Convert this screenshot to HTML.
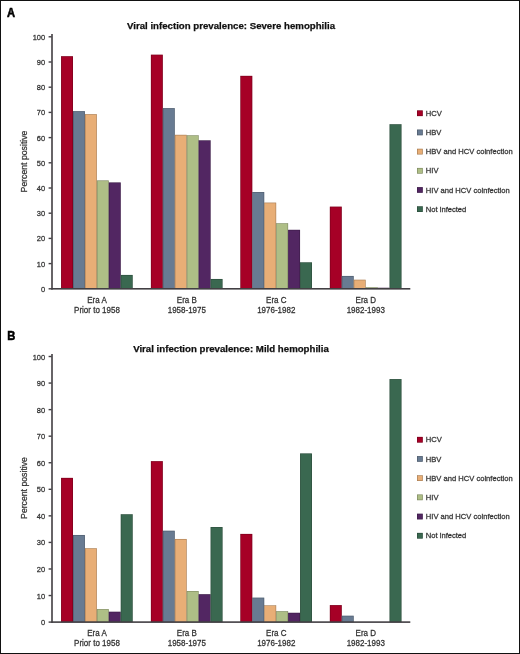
<!DOCTYPE html>
<html><head><meta charset="utf-8"><style>
html,body{margin:0;padding:0;background:#fff;}
body{width:520px;height:654px;overflow:hidden;}
svg{display:block;font-family:"Liberation Sans", sans-serif;will-change:transform;}
</style></head><body>
<svg width="520" height="654" viewBox="0 0 520 654">
<rect x="0" y="0" width="520" height="654" fill="#fff"/>
<text x="0" y="0" transform="translate(6.90,16.90) scale(1,1.08)" font-size="11.2" text-anchor="start" font-weight="bold" fill="#000" stroke="#000" stroke-width="0.5" >A</text>
<text x="0" y="0" transform="translate(231.00,28.80) scale(1,1.0)" font-size="9.67" text-anchor="middle" font-weight="bold" fill="#111" stroke="#111" stroke-width="0.25" >Viral infection prevalence: Severe hemophilia</text>
<rect x="61.05" y="56.20" width="11.94" height="232.60" fill="#A60026"/>
<rect x="61.35" y="56.50" width="11.34" height="232.30" fill="none" stroke="#000" stroke-opacity="0.28" stroke-width="0.6"/>
<rect x="72.99" y="111.14" width="11.94" height="177.66" fill="#687B92"/>
<rect x="73.29" y="111.44" width="11.34" height="177.36" fill="none" stroke="#000" stroke-opacity="0.28" stroke-width="0.6"/>
<rect x="84.93" y="114.16" width="11.94" height="174.64" fill="#E8AE76"/>
<rect x="85.23" y="114.46" width="11.34" height="174.34" fill="none" stroke="#000" stroke-opacity="0.28" stroke-width="0.6"/>
<rect x="96.87" y="180.44" width="11.94" height="108.36" fill="#AEBE86"/>
<rect x="97.17" y="180.74" width="11.34" height="108.06" fill="none" stroke="#000" stroke-opacity="0.28" stroke-width="0.6"/>
<rect x="108.81" y="182.46" width="11.94" height="106.34" fill="#522662"/>
<rect x="109.11" y="182.76" width="11.34" height="106.04" fill="none" stroke="#000" stroke-opacity="0.28" stroke-width="0.6"/>
<rect x="120.75" y="274.94" width="11.94" height="13.86" fill="#3A6850"/>
<rect x="121.05" y="275.24" width="11.34" height="13.56" fill="none" stroke="#000" stroke-opacity="0.28" stroke-width="0.6"/>
<rect x="150.90" y="54.69" width="11.94" height="234.11" fill="#A60026"/>
<rect x="151.20" y="54.99" width="11.34" height="233.81" fill="none" stroke="#000" stroke-opacity="0.28" stroke-width="0.6"/>
<rect x="162.84" y="108.12" width="11.94" height="180.68" fill="#687B92"/>
<rect x="163.14" y="108.42" width="11.34" height="180.38" fill="none" stroke="#000" stroke-opacity="0.28" stroke-width="0.6"/>
<rect x="174.78" y="134.83" width="11.94" height="153.97" fill="#E8AE76"/>
<rect x="175.08" y="135.13" width="11.34" height="153.67" fill="none" stroke="#000" stroke-opacity="0.28" stroke-width="0.6"/>
<rect x="186.72" y="135.33" width="11.94" height="153.47" fill="#AEBE86"/>
<rect x="187.02" y="135.63" width="11.34" height="153.17" fill="none" stroke="#000" stroke-opacity="0.28" stroke-width="0.6"/>
<rect x="198.66" y="140.37" width="11.94" height="148.43" fill="#522662"/>
<rect x="198.96" y="140.67" width="11.34" height="148.13" fill="none" stroke="#000" stroke-opacity="0.28" stroke-width="0.6"/>
<rect x="210.60" y="278.97" width="11.94" height="9.83" fill="#3A6850"/>
<rect x="210.90" y="279.27" width="11.34" height="9.53" fill="none" stroke="#000" stroke-opacity="0.28" stroke-width="0.6"/>
<rect x="240.35" y="75.86" width="11.94" height="212.94" fill="#A60026"/>
<rect x="240.65" y="76.16" width="11.34" height="212.64" fill="none" stroke="#000" stroke-opacity="0.28" stroke-width="0.6"/>
<rect x="252.29" y="192.03" width="11.94" height="96.77" fill="#687B92"/>
<rect x="252.59" y="192.33" width="11.34" height="96.47" fill="none" stroke="#000" stroke-opacity="0.28" stroke-width="0.6"/>
<rect x="264.23" y="202.62" width="11.94" height="86.18" fill="#E8AE76"/>
<rect x="264.53" y="202.92" width="11.34" height="85.88" fill="none" stroke="#000" stroke-opacity="0.28" stroke-width="0.6"/>
<rect x="276.17" y="223.28" width="11.94" height="65.52" fill="#AEBE86"/>
<rect x="276.47" y="223.58" width="11.34" height="65.22" fill="none" stroke="#000" stroke-opacity="0.28" stroke-width="0.6"/>
<rect x="288.11" y="229.83" width="11.94" height="58.97" fill="#522662"/>
<rect x="288.41" y="230.13" width="11.34" height="58.67" fill="none" stroke="#000" stroke-opacity="0.28" stroke-width="0.6"/>
<rect x="300.05" y="262.34" width="11.94" height="26.46" fill="#3A6850"/>
<rect x="300.35" y="262.64" width="11.34" height="26.16" fill="none" stroke="#000" stroke-opacity="0.28" stroke-width="0.6"/>
<rect x="329.85" y="206.65" width="11.94" height="82.15" fill="#A60026"/>
<rect x="330.15" y="206.95" width="11.34" height="81.85" fill="none" stroke="#000" stroke-opacity="0.28" stroke-width="0.6"/>
<rect x="341.79" y="275.95" width="11.94" height="12.85" fill="#687B92"/>
<rect x="342.09" y="276.25" width="11.34" height="12.55" fill="none" stroke="#000" stroke-opacity="0.28" stroke-width="0.6"/>
<rect x="353.73" y="279.73" width="11.94" height="9.07" fill="#E8AE76"/>
<rect x="354.03" y="280.03" width="11.34" height="8.77" fill="none" stroke="#000" stroke-opacity="0.28" stroke-width="0.6"/>
<rect x="365.67" y="287.29" width="11.94" height="1.51" fill="#AEBE86"/>
<rect x="365.97" y="287.59" width="11.34" height="1.21" fill="none" stroke="#000" stroke-opacity="0.28" stroke-width="0.6"/>
<rect x="377.61" y="287.79" width="11.94" height="1.01" fill="#522662"/>
<rect x="377.91" y="288.09" width="11.34" height="0.71" fill="none" stroke="#000" stroke-opacity="0.28" stroke-width="0.6"/>
<rect x="389.55" y="124.24" width="11.94" height="164.56" fill="#3A6850"/>
<rect x="389.85" y="124.54" width="11.34" height="164.26" fill="none" stroke="#000" stroke-opacity="0.28" stroke-width="0.6"/>
<rect x="51.20" y="34.00" width="1.6" height="255.60" fill="#423f43"/>
<rect x="51.20" y="288.00" width="359.10" height="1.6" fill="#423f43"/>
<rect x="48.6" y="288.10" width="3" height="1.4" fill="#423f43"/>
<text x="0" y="0" transform="translate(45.20,291.80) scale(1,1.05)" font-size="7.5" text-anchor="end" font-weight="normal" fill="#333" stroke="#333" stroke-width="0.25" >0</text>
<rect x="48.6" y="262.90" width="3" height="1.4" fill="#423f43"/>
<text x="0" y="0" transform="translate(45.20,266.60) scale(1,1.05)" font-size="7.5" text-anchor="end" font-weight="normal" fill="#333" stroke="#333" stroke-width="0.25" >10</text>
<rect x="48.6" y="237.70" width="3" height="1.4" fill="#423f43"/>
<text x="0" y="0" transform="translate(45.20,241.40) scale(1,1.05)" font-size="7.5" text-anchor="end" font-weight="normal" fill="#333" stroke="#333" stroke-width="0.25" >20</text>
<rect x="48.6" y="212.50" width="3" height="1.4" fill="#423f43"/>
<text x="0" y="0" transform="translate(45.20,216.20) scale(1,1.05)" font-size="7.5" text-anchor="end" font-weight="normal" fill="#333" stroke="#333" stroke-width="0.25" >30</text>
<rect x="48.6" y="187.30" width="3" height="1.4" fill="#423f43"/>
<text x="0" y="0" transform="translate(45.20,191.00) scale(1,1.05)" font-size="7.5" text-anchor="end" font-weight="normal" fill="#333" stroke="#333" stroke-width="0.25" >40</text>
<rect x="48.6" y="162.10" width="3" height="1.4" fill="#423f43"/>
<text x="0" y="0" transform="translate(45.20,165.80) scale(1,1.05)" font-size="7.5" text-anchor="end" font-weight="normal" fill="#333" stroke="#333" stroke-width="0.25" >50</text>
<rect x="48.6" y="136.90" width="3" height="1.4" fill="#423f43"/>
<text x="0" y="0" transform="translate(45.20,140.60) scale(1,1.05)" font-size="7.5" text-anchor="end" font-weight="normal" fill="#333" stroke="#333" stroke-width="0.25" >60</text>
<rect x="48.6" y="111.70" width="3" height="1.4" fill="#423f43"/>
<text x="0" y="0" transform="translate(45.20,115.40) scale(1,1.05)" font-size="7.5" text-anchor="end" font-weight="normal" fill="#333" stroke="#333" stroke-width="0.25" >70</text>
<rect x="48.6" y="86.50" width="3" height="1.4" fill="#423f43"/>
<text x="0" y="0" transform="translate(45.20,90.20) scale(1,1.05)" font-size="7.5" text-anchor="end" font-weight="normal" fill="#333" stroke="#333" stroke-width="0.25" >80</text>
<rect x="48.6" y="61.30" width="3" height="1.4" fill="#423f43"/>
<text x="0" y="0" transform="translate(45.20,65.00) scale(1,1.05)" font-size="7.5" text-anchor="end" font-weight="normal" fill="#333" stroke="#333" stroke-width="0.25" >90</text>
<rect x="48.6" y="36.10" width="3" height="1.4" fill="#423f43"/>
<text x="0" y="0" transform="translate(45.20,39.80) scale(1,1.05)" font-size="7.5" text-anchor="end" font-weight="normal" fill="#333" stroke="#333" stroke-width="0.25" >100</text>
<text x="0" y="0" font-size="8.7" text-anchor="middle" fill="#333" color="#333" stroke="currentColor" stroke-width="0.25" transform="translate(26.6,161.50) rotate(-90) scale(1,1.05)">Percent positive</text>
<text x="0" y="0" transform="translate(96.97,302.80) scale(1,1.05)" font-size="8.0" text-anchor="middle" font-weight="normal" fill="#333" stroke="#333" stroke-width="0.25" >Era A</text>
<text x="0" y="0" transform="translate(96.97,312.50) scale(1,1.05)" font-size="8.0" text-anchor="middle" font-weight="normal" fill="#333" stroke="#333" stroke-width="0.25" >Prior to 1958</text>
<text x="0" y="0" transform="translate(186.82,302.80) scale(1,1.05)" font-size="8.0" text-anchor="middle" font-weight="normal" fill="#333" stroke="#333" stroke-width="0.25" >Era B</text>
<text x="0" y="0" transform="translate(186.82,312.50) scale(1,1.05)" font-size="8.0" text-anchor="middle" font-weight="normal" fill="#333" stroke="#333" stroke-width="0.25" >1958-1975</text>
<text x="0" y="0" transform="translate(276.27,302.80) scale(1,1.05)" font-size="8.0" text-anchor="middle" font-weight="normal" fill="#333" stroke="#333" stroke-width="0.25" >Era C</text>
<text x="0" y="0" transform="translate(276.27,312.50) scale(1,1.05)" font-size="8.0" text-anchor="middle" font-weight="normal" fill="#333" stroke="#333" stroke-width="0.25" >1976-1982</text>
<text x="0" y="0" transform="translate(365.77,302.80) scale(1,1.05)" font-size="8.0" text-anchor="middle" font-weight="normal" fill="#333" stroke="#333" stroke-width="0.25" >Era D</text>
<text x="0" y="0" transform="translate(365.77,312.50) scale(1,1.05)" font-size="8.0" text-anchor="middle" font-weight="normal" fill="#333" stroke="#333" stroke-width="0.25" >1982-1993</text>
<rect x="417.0" y="110.40" width="5.8" height="5.7" fill="#A60026"/>
<rect x="417.3" y="110.70" width="5.2" height="5.1" fill="none" stroke="#000" stroke-opacity="0.3" stroke-width="0.6"/>
<text x="0" y="0" transform="translate(425.80,115.85) scale(1,1.05)" font-size="7.6" text-anchor="start" font-weight="normal" fill="#333" stroke="#333" stroke-width="0.25" >HCV</text>
<rect x="417.0" y="129.58" width="5.8" height="5.7" fill="#687B92"/>
<rect x="417.3" y="129.88" width="5.2" height="5.1" fill="none" stroke="#000" stroke-opacity="0.3" stroke-width="0.6"/>
<text x="0" y="0" transform="translate(425.80,135.03) scale(1,1.05)" font-size="7.6" text-anchor="start" font-weight="normal" fill="#333" stroke="#333" stroke-width="0.25" >HBV</text>
<rect x="417.0" y="148.76" width="5.8" height="5.7" fill="#E8AE76"/>
<rect x="417.3" y="149.06" width="5.2" height="5.1" fill="none" stroke="#000" stroke-opacity="0.3" stroke-width="0.6"/>
<text x="0" y="0" transform="translate(425.80,154.21) scale(1,1.05)" font-size="7.6" text-anchor="start" font-weight="normal" fill="#333" stroke="#333" stroke-width="0.25" >HBV and HCV coinfection</text>
<rect x="417.0" y="167.94" width="5.8" height="5.7" fill="#AEBE86"/>
<rect x="417.3" y="168.24" width="5.2" height="5.1" fill="none" stroke="#000" stroke-opacity="0.3" stroke-width="0.6"/>
<text x="0" y="0" transform="translate(425.80,173.39) scale(1,1.05)" font-size="7.6" text-anchor="start" font-weight="normal" fill="#333" stroke="#333" stroke-width="0.25" >HIV</text>
<rect x="417.0" y="187.12" width="5.8" height="5.7" fill="#522662"/>
<rect x="417.3" y="187.42" width="5.2" height="5.1" fill="none" stroke="#000" stroke-opacity="0.3" stroke-width="0.6"/>
<text x="0" y="0" transform="translate(425.80,192.57) scale(1,1.05)" font-size="7.6" text-anchor="start" font-weight="normal" fill="#333" stroke="#333" stroke-width="0.25" >HIV and HCV coinfection</text>
<rect x="417.0" y="206.30" width="5.8" height="5.7" fill="#3A6850"/>
<rect x="417.3" y="206.60" width="5.2" height="5.1" fill="none" stroke="#000" stroke-opacity="0.3" stroke-width="0.6"/>
<text x="0" y="0" transform="translate(425.80,211.75) scale(1,1.05)" font-size="7.6" text-anchor="start" font-weight="normal" fill="#333" stroke="#333" stroke-width="0.25" >Not infected</text>
<text x="0" y="0" transform="translate(7.30,339.70) scale(1,1.08)" font-size="11.2" text-anchor="start" font-weight="bold" fill="#000" stroke="#000" stroke-width="0.5" >B</text>
<text x="0" y="0" transform="translate(231.00,351.70) scale(1,1.0)" font-size="9.67" text-anchor="middle" font-weight="bold" fill="#111" stroke="#111" stroke-width="0.25" >Viral infection prevalence: Mild hemophilia</text>
<rect x="61.05" y="477.88" width="11.94" height="144.22" fill="#A60026"/>
<rect x="61.35" y="478.18" width="11.34" height="143.92" fill="none" stroke="#000" stroke-opacity="0.28" stroke-width="0.6"/>
<rect x="72.99" y="534.98" width="11.94" height="87.12" fill="#687B92"/>
<rect x="73.29" y="535.28" width="11.34" height="86.82" fill="none" stroke="#000" stroke-opacity="0.28" stroke-width="0.6"/>
<rect x="84.93" y="548.26" width="11.94" height="73.84" fill="#E8AE76"/>
<rect x="85.23" y="548.56" width="11.34" height="73.54" fill="none" stroke="#000" stroke-opacity="0.28" stroke-width="0.6"/>
<rect x="96.87" y="609.09" width="11.94" height="13.01" fill="#AEBE86"/>
<rect x="97.17" y="609.39" width="11.34" height="12.71" fill="none" stroke="#000" stroke-opacity="0.28" stroke-width="0.6"/>
<rect x="108.81" y="611.74" width="11.94" height="10.36" fill="#522662"/>
<rect x="109.11" y="612.04" width="11.34" height="10.06" fill="none" stroke="#000" stroke-opacity="0.28" stroke-width="0.6"/>
<rect x="120.75" y="514.27" width="11.94" height="107.83" fill="#3A6850"/>
<rect x="121.05" y="514.57" width="11.34" height="107.53" fill="none" stroke="#000" stroke-opacity="0.28" stroke-width="0.6"/>
<rect x="150.90" y="461.15" width="11.94" height="160.95" fill="#A60026"/>
<rect x="151.20" y="461.45" width="11.34" height="160.65" fill="none" stroke="#000" stroke-opacity="0.28" stroke-width="0.6"/>
<rect x="162.84" y="530.73" width="11.94" height="91.37" fill="#687B92"/>
<rect x="163.14" y="531.03" width="11.34" height="91.07" fill="none" stroke="#000" stroke-opacity="0.28" stroke-width="0.6"/>
<rect x="174.78" y="538.97" width="11.94" height="83.13" fill="#E8AE76"/>
<rect x="175.08" y="539.27" width="11.34" height="82.83" fill="none" stroke="#000" stroke-opacity="0.28" stroke-width="0.6"/>
<rect x="186.72" y="591.02" width="11.94" height="31.08" fill="#AEBE86"/>
<rect x="187.02" y="591.32" width="11.34" height="30.78" fill="none" stroke="#000" stroke-opacity="0.28" stroke-width="0.6"/>
<rect x="198.66" y="594.21" width="11.94" height="27.89" fill="#522662"/>
<rect x="198.96" y="594.51" width="11.34" height="27.59" fill="none" stroke="#000" stroke-opacity="0.28" stroke-width="0.6"/>
<rect x="210.60" y="527.02" width="11.94" height="95.08" fill="#3A6850"/>
<rect x="210.90" y="527.32" width="11.34" height="94.78" fill="none" stroke="#000" stroke-opacity="0.28" stroke-width="0.6"/>
<rect x="240.35" y="533.92" width="11.94" height="88.18" fill="#A60026"/>
<rect x="240.65" y="534.22" width="11.34" height="87.88" fill="none" stroke="#000" stroke-opacity="0.28" stroke-width="0.6"/>
<rect x="252.29" y="597.66" width="11.94" height="24.44" fill="#687B92"/>
<rect x="252.59" y="597.96" width="11.34" height="24.14" fill="none" stroke="#000" stroke-opacity="0.28" stroke-width="0.6"/>
<rect x="264.23" y="605.37" width="11.94" height="16.73" fill="#E8AE76"/>
<rect x="264.53" y="605.67" width="11.34" height="16.43" fill="none" stroke="#000" stroke-opacity="0.28" stroke-width="0.6"/>
<rect x="276.17" y="611.21" width="11.94" height="10.89" fill="#AEBE86"/>
<rect x="276.47" y="611.51" width="11.34" height="10.59" fill="none" stroke="#000" stroke-opacity="0.28" stroke-width="0.6"/>
<rect x="288.11" y="612.80" width="11.94" height="9.30" fill="#522662"/>
<rect x="288.41" y="613.10" width="11.34" height="9.00" fill="none" stroke="#000" stroke-opacity="0.28" stroke-width="0.6"/>
<rect x="300.05" y="453.44" width="11.94" height="168.66" fill="#3A6850"/>
<rect x="300.35" y="453.74" width="11.34" height="168.36" fill="none" stroke="#000" stroke-opacity="0.28" stroke-width="0.6"/>
<rect x="329.85" y="605.10" width="11.94" height="17.00" fill="#A60026"/>
<rect x="330.15" y="605.40" width="11.34" height="16.70" fill="none" stroke="#000" stroke-opacity="0.28" stroke-width="0.6"/>
<rect x="341.79" y="615.73" width="11.94" height="6.37" fill="#687B92"/>
<rect x="342.09" y="616.03" width="11.34" height="6.07" fill="none" stroke="#000" stroke-opacity="0.28" stroke-width="0.6"/>
<rect x="389.55" y="379.08" width="11.94" height="243.02" fill="#3A6850"/>
<rect x="389.85" y="379.38" width="11.34" height="242.72" fill="none" stroke="#000" stroke-opacity="0.28" stroke-width="0.6"/>
<rect x="51.20" y="354.00" width="1.6" height="268.90" fill="#423f43"/>
<rect x="51.20" y="621.30" width="359.10" height="1.6" fill="#423f43"/>
<rect x="48.6" y="621.40" width="3" height="1.4" fill="#423f43"/>
<text x="0" y="0" transform="translate(45.20,625.10) scale(1,1.05)" font-size="7.5" text-anchor="end" font-weight="normal" fill="#333" stroke="#333" stroke-width="0.25" >0</text>
<rect x="48.6" y="594.84" width="3" height="1.4" fill="#423f43"/>
<text x="0" y="0" transform="translate(45.20,598.54) scale(1,1.05)" font-size="7.5" text-anchor="end" font-weight="normal" fill="#333" stroke="#333" stroke-width="0.25" >10</text>
<rect x="48.6" y="568.28" width="3" height="1.4" fill="#423f43"/>
<text x="0" y="0" transform="translate(45.20,571.98) scale(1,1.05)" font-size="7.5" text-anchor="end" font-weight="normal" fill="#333" stroke="#333" stroke-width="0.25" >20</text>
<rect x="48.6" y="541.72" width="3" height="1.4" fill="#423f43"/>
<text x="0" y="0" transform="translate(45.20,545.42) scale(1,1.05)" font-size="7.5" text-anchor="end" font-weight="normal" fill="#333" stroke="#333" stroke-width="0.25" >30</text>
<rect x="48.6" y="515.16" width="3" height="1.4" fill="#423f43"/>
<text x="0" y="0" transform="translate(45.20,518.86) scale(1,1.05)" font-size="7.5" text-anchor="end" font-weight="normal" fill="#333" stroke="#333" stroke-width="0.25" >40</text>
<rect x="48.6" y="488.60" width="3" height="1.4" fill="#423f43"/>
<text x="0" y="0" transform="translate(45.20,492.30) scale(1,1.05)" font-size="7.5" text-anchor="end" font-weight="normal" fill="#333" stroke="#333" stroke-width="0.25" >50</text>
<rect x="48.6" y="462.04" width="3" height="1.4" fill="#423f43"/>
<text x="0" y="0" transform="translate(45.20,465.74) scale(1,1.05)" font-size="7.5" text-anchor="end" font-weight="normal" fill="#333" stroke="#333" stroke-width="0.25" >60</text>
<rect x="48.6" y="435.48" width="3" height="1.4" fill="#423f43"/>
<text x="0" y="0" transform="translate(45.20,439.18) scale(1,1.05)" font-size="7.5" text-anchor="end" font-weight="normal" fill="#333" stroke="#333" stroke-width="0.25" >70</text>
<rect x="48.6" y="408.92" width="3" height="1.4" fill="#423f43"/>
<text x="0" y="0" transform="translate(45.20,412.62) scale(1,1.05)" font-size="7.5" text-anchor="end" font-weight="normal" fill="#333" stroke="#333" stroke-width="0.25" >80</text>
<rect x="48.6" y="382.36" width="3" height="1.4" fill="#423f43"/>
<text x="0" y="0" transform="translate(45.20,386.06) scale(1,1.05)" font-size="7.5" text-anchor="end" font-weight="normal" fill="#333" stroke="#333" stroke-width="0.25" >90</text>
<rect x="48.6" y="355.80" width="3" height="1.4" fill="#423f43"/>
<text x="0" y="0" transform="translate(45.20,359.50) scale(1,1.05)" font-size="7.5" text-anchor="end" font-weight="normal" fill="#333" stroke="#333" stroke-width="0.25" >100</text>
<text x="0" y="0" font-size="8.7" text-anchor="middle" fill="#333" color="#333" stroke="currentColor" stroke-width="0.25" transform="translate(26.6,488.00) rotate(-90) scale(1,1.05)">Percent positive</text>
<text x="0" y="0" transform="translate(96.97,635.60) scale(1,1.05)" font-size="8.0" text-anchor="middle" font-weight="normal" fill="#333" stroke="#333" stroke-width="0.25" >Era A</text>
<text x="0" y="0" transform="translate(96.97,645.70) scale(1,1.05)" font-size="8.0" text-anchor="middle" font-weight="normal" fill="#333" stroke="#333" stroke-width="0.25" >Prior to 1958</text>
<text x="0" y="0" transform="translate(186.82,635.60) scale(1,1.05)" font-size="8.0" text-anchor="middle" font-weight="normal" fill="#333" stroke="#333" stroke-width="0.25" >Era B</text>
<text x="0" y="0" transform="translate(186.82,645.70) scale(1,1.05)" font-size="8.0" text-anchor="middle" font-weight="normal" fill="#333" stroke="#333" stroke-width="0.25" >1958-1975</text>
<text x="0" y="0" transform="translate(276.27,635.60) scale(1,1.05)" font-size="8.0" text-anchor="middle" font-weight="normal" fill="#333" stroke="#333" stroke-width="0.25" >Era C</text>
<text x="0" y="0" transform="translate(276.27,645.70) scale(1,1.05)" font-size="8.0" text-anchor="middle" font-weight="normal" fill="#333" stroke="#333" stroke-width="0.25" >1976-1982</text>
<text x="0" y="0" transform="translate(365.77,635.60) scale(1,1.05)" font-size="8.0" text-anchor="middle" font-weight="normal" fill="#333" stroke="#333" stroke-width="0.25" >Era D</text>
<text x="0" y="0" transform="translate(365.77,645.70) scale(1,1.05)" font-size="8.0" text-anchor="middle" font-weight="normal" fill="#333" stroke="#333" stroke-width="0.25" >1982-1993</text>
<rect x="417.0" y="436.90" width="5.8" height="5.7" fill="#A60026"/>
<rect x="417.3" y="437.20" width="5.2" height="5.1" fill="none" stroke="#000" stroke-opacity="0.3" stroke-width="0.6"/>
<text x="0" y="0" transform="translate(425.80,442.35) scale(1,1.05)" font-size="7.6" text-anchor="start" font-weight="normal" fill="#333" stroke="#333" stroke-width="0.25" >HCV</text>
<rect x="417.0" y="456.10" width="5.8" height="5.7" fill="#687B92"/>
<rect x="417.3" y="456.40" width="5.2" height="5.1" fill="none" stroke="#000" stroke-opacity="0.3" stroke-width="0.6"/>
<text x="0" y="0" transform="translate(425.80,461.55) scale(1,1.05)" font-size="7.6" text-anchor="start" font-weight="normal" fill="#333" stroke="#333" stroke-width="0.25" >HBV</text>
<rect x="417.0" y="475.30" width="5.8" height="5.7" fill="#E8AE76"/>
<rect x="417.3" y="475.60" width="5.2" height="5.1" fill="none" stroke="#000" stroke-opacity="0.3" stroke-width="0.6"/>
<text x="0" y="0" transform="translate(425.80,480.75) scale(1,1.05)" font-size="7.6" text-anchor="start" font-weight="normal" fill="#333" stroke="#333" stroke-width="0.25" >HBV and HCV coinfection</text>
<rect x="417.0" y="494.50" width="5.8" height="5.7" fill="#AEBE86"/>
<rect x="417.3" y="494.80" width="5.2" height="5.1" fill="none" stroke="#000" stroke-opacity="0.3" stroke-width="0.6"/>
<text x="0" y="0" transform="translate(425.80,499.95) scale(1,1.05)" font-size="7.6" text-anchor="start" font-weight="normal" fill="#333" stroke="#333" stroke-width="0.25" >HIV</text>
<rect x="417.0" y="513.70" width="5.8" height="5.7" fill="#522662"/>
<rect x="417.3" y="514.00" width="5.2" height="5.1" fill="none" stroke="#000" stroke-opacity="0.3" stroke-width="0.6"/>
<text x="0" y="0" transform="translate(425.80,519.15) scale(1,1.05)" font-size="7.6" text-anchor="start" font-weight="normal" fill="#333" stroke="#333" stroke-width="0.25" >HIV and HCV coinfection</text>
<rect x="417.0" y="532.90" width="5.8" height="5.7" fill="#3A6850"/>
<rect x="417.3" y="533.20" width="5.2" height="5.1" fill="none" stroke="#000" stroke-opacity="0.3" stroke-width="0.6"/>
<text x="0" y="0" transform="translate(425.80,538.35) scale(1,1.05)" font-size="7.6" text-anchor="start" font-weight="normal" fill="#333" stroke="#333" stroke-width="0.25" >Not infected</text>
<rect x="0.5" y="0.5" width="519" height="653" fill="none" stroke="#111" stroke-width="1"/>
</svg>
</body></html>
